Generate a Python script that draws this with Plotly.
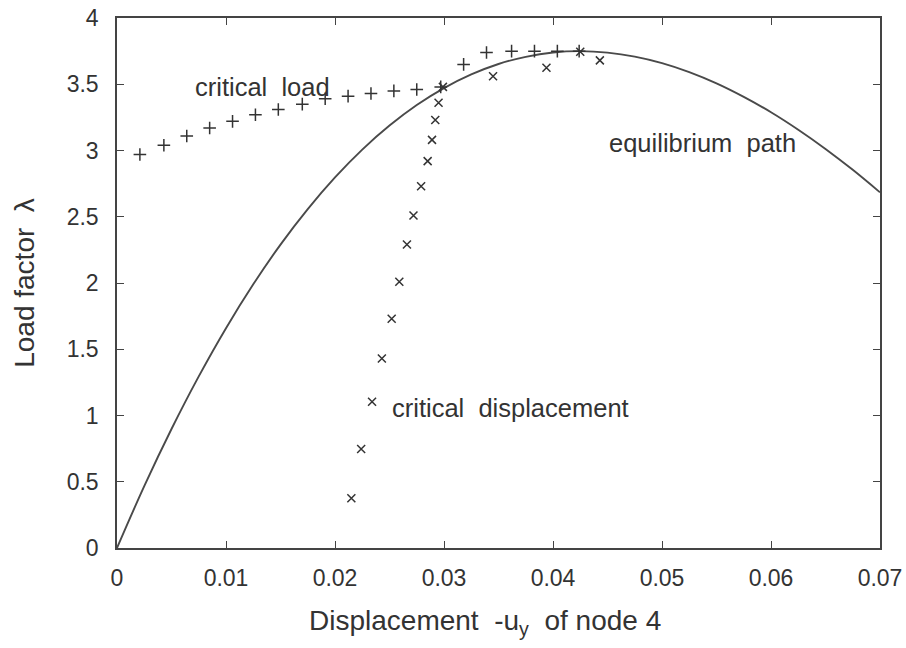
import plotly.graph_objects as go

# Equilibrium path
path_u = [0, 0.0025, 0.005, 0.0075, 0.01, 0.0125, 0.015, 0.0175, 0.02, 0.0225, 0.025,
          0.0275, 0.03, 0.0325, 0.035, 0.0375, 0.04, 0.0425, 0.045, 0.0475, 0.05,
          0.0525, 0.055, 0.0575, 0.06, 0.0625, 0.065, 0.0675, 0.07]
path_lam = [0, 0.467, 0.898, 1.295, 1.659, 1.990, 2.290, 2.558, 2.797, 3.007, 3.188,
            3.343, 3.471, 3.574, 3.653, 3.707, 3.740, 3.750, 3.739, 3.709, 3.660,
            3.592, 3.507, 3.405, 3.289, 3.157, 3.012, 2.854, 2.684]

# Critical load points (+)
cl_u = [0.0021, 0.0043, 0.0064, 0.0085, 0.0106, 0.0127, 0.0148, 0.0170, 0.0191, 0.0212,
        0.0233, 0.0254, 0.0275, 0.0297, 0.0318, 0.0339, 0.0362, 0.0383, 0.0404, 0.0424]
cl_lam = [2.97, 3.04, 3.11, 3.17, 3.22, 3.27, 3.31, 3.35, 3.39, 3.41,
          3.43, 3.45, 3.46, 3.48, 3.65, 3.74, 3.75, 3.75, 3.75, 3.75]

# Critical displacement points (x)
cd_u = [0.0215, 0.0224, 0.0234, 0.0243, 0.0252, 0.0259, 0.0266, 0.0272, 0.0279,
        0.0285, 0.0289, 0.0292, 0.0295, 0.0299, 0.0345, 0.0394, 0.0425, 0.0443]
cd_lam = [0.375, 0.747, 1.104, 1.43, 1.73, 2.01, 2.29, 2.51, 2.73,
          2.92, 3.08, 3.23, 3.36, 3.48, 3.56, 3.625, 3.745, 3.68]

x_ticks = [0, 0.01, 0.02, 0.03, 0.04, 0.05, 0.06, 0.07]
x_tick_text = ["0", "0.01", "0.02", "0.03", "0.04", "0.05", "0.06", "0.07"]
y_ticks = [0, 0.5, 1, 1.5, 2, 2.5, 3, 3.5, 4]
y_tick_text = ["0", "0.5", "1", "1.5", "2", "2.5", "3", "3.5", "4"]

FONT = "Liberation Sans, Arial, Helvetica, sans-serif"
INK = "#333333"

fig = go.Figure()
fig.add_trace(go.Scatter(x=path_u, y=path_lam, mode="lines",
                         line=dict(color="#4a4a4a", width=1.9, shape="spline"),
                         showlegend=False, hoverinfo="skip"))
fig.add_trace(go.Scatter(x=cl_u, y=cl_lam, mode="markers",
                         marker=dict(symbol="cross-thin", size=9,
                                     line=dict(color="#333333", width=1.5)),
                         showlegend=False))
fig.add_trace(go.Scatter(x=cd_u, y=cd_lam, mode="markers",
                         marker=dict(symbol="x-thin", size=8,
                                     line=dict(color="#333333", width=1.5)),
                         showlegend=False))

ANN = 25.5
fig.add_annotation(x=0.01334, y=3.48, text="critical  load", showarrow=False,
                   font=dict(family=FONT, size=ANN, color=INK))
fig.add_annotation(x=0.0537, y=3.06, text="equilibrium  path", showarrow=False,
                   font=dict(family=FONT, size=ANN, color=INK))
fig.add_annotation(x=0.0250, y=1.06, text="critical  displacement", showarrow=False,
                   xanchor="left", font=dict(family=FONT, size=ANN, color=INK))

# x-axis title (slightly left of the plot centre, as in the original)
fig.add_annotation(xref="paper", yref="paper", x=0.482, y=-0.14,
                   xanchor="center", yanchor="middle", showarrow=False,
                   text="Displacement  -u<sub>y</sub>  of node 4",
                   font=dict(family=FONT, size=28, color=INK))

axis_common = dict(showgrid=False, zeroline=False, showline=True, linecolor="#444444",
                   linewidth=1.5, mirror="ticks", ticks="inside", ticklen=7,
                   tickcolor="#444444", tickwidth=1.2, automargin=False,
                   ticklabeloverflow="allow",
                   tickfont=dict(family=FONT, size=23, color=INK))

fig.update_xaxes(range=[0, 0.07], tickvals=x_ticks, ticktext=x_tick_text,
                 ticklabelstandoff=9, **axis_common)
fig.update_yaxes(range=[0, 4], tickvals=y_ticks, ticktext=y_tick_text,
                 ticklabelstandoff=12,
                 title=dict(text="Load factor  λ",
                            font=dict(family=FONT, size=28, color=INK), standoff=24),
                 **axis_common)

fig.update_layout(width=906, height=648, plot_bgcolor="white", paper_bgcolor="white",
                  margin=dict(l=117, r=26, t=18, b=100),
                  font=dict(family=FONT, color=INK))

fig.write_html("out.html", config={"displayModeBar": False},
               post_script="document.body.style.margin='0';")
